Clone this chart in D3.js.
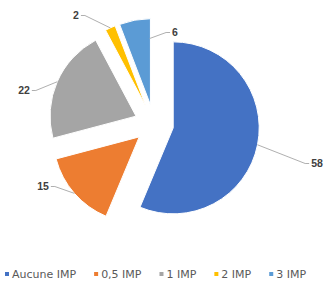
<!DOCTYPE html>
<html>
<head>
<meta charset="utf-8">
<script src="https://cdn.jsdelivr.net/npm/d3@7"></script>
<style>
  body { margin: 0; background: #fff; }
  svg { display: block; }
</style>
</head>
<body>
<div id="chart"></div>
<script>
// data
var categories = ["Aucune IMP", "0,5 IMP", "1 IMP", "2 IMP", "3 IMP"];
var values = [58, 15, 22, 2, 6];
var colors = ["#4472C4", "#ED7D31", "#A5A5A5", "#FFC000", "#5B9BD5"];

var width = 327, height = 281;
var cx = 154, cy = 124, radius = 86, explode = 19.6;

// label placement, relative to the pie centre (layout only)
var labelLayout = [
  {dx: 163, dy: 43, leaderAngle: null, leaderR: 1},
  {dx: -111, dy: 66, leaderAngle: null, leaderR: 1},
  {dx: -130, dy: -30, leaderAngle: null, leaderR: 1},
  {dx: -78, dy: -105, leaderAngle: null, leaderR: 1},
  {dx: 21, dy: -88, leaderAngle: 359.3, leaderR: 0.77}
];

var svg = d3.select("#chart")
  .append("svg")
    .attr("width", width)
    .attr("height", height);

var pie = d3.pie().sort(null).value(function(d) { return d; });
var arcs = pie(values);
var arc = d3.arc().innerRadius(0).outerRadius(radius);

function offset(d) {
  var mid = (d.startAngle + d.endAngle) / 2;
  return [explode * Math.sin(mid), -explode * Math.cos(mid)];
}

var g = svg.append("g")
  .attr("transform", "translate(" + cx + "," + cy + ")");

g.selectAll("path.slice")
  .data(arcs)
  .enter()
  .append("path")
    .attr("class", "slice")
    .attr("d", arc)
    .attr("transform", function(d) {
      var o = offset(d);
      return "translate(" + o[0] + "," + o[1] + ")";
    })
    .attr("fill", function(d, i) { return colors[i]; })
    .attr("stroke", "#fff")
    .attr("stroke-width", 1);

// data labels with leader lines
var labels = g.append("g");
arcs.forEach(function(d, i) {
  var L = labelLayout[i];
  var o = offset(d);
  var a = L.leaderAngle != null ? L.leaderAngle * Math.PI / 180 : (d.startAngle + d.endAngle) / 2;
  var sx = o[0] + radius * L.leaderR * Math.sin(a);
  var sy = o[1] - radius * L.leaderR * Math.cos(a);

  var t = labels.append("text")
    .attr("x", L.dx)
    .attr("y", L.dy)
    .attr("text-anchor", "middle")
    .attr("font-family", "'Liberation Sans', Arial, sans-serif")
    .attr("font-size", "10.5px")
    .attr("font-weight", "bold")
    .attr("fill", "#404040")
    .text(values[i]);
  var w = t.node().getComputedTextLength();
  var side = sx > L.dx ? 1 : -1;
  var ex = L.dx + side * (w / 2 + 2);
  var ey = L.dy - 3.5;
  var kx = ex + side * 4;

  labels.append("polyline")
    .attr("points", [[sx, sy], [kx, ey], [ex, ey]].map(function(p) { return p.join(","); }).join(" "))
    .attr("fill", "none")
    .attr("stroke", "#A6A6A6")
    .attr("stroke-width", 0.9);
});

// legend
var legend = svg.append("g").attr("transform", "translate(0,274)");
var lx = 5;
categories.forEach(function(c, i) {
  legend.append("rect")
    .attr("x", lx)
    .attr("y", -2)
    .attr("width", 4)
    .attr("height", 4)
    .attr("fill", colors[i]);
  var t = legend.append("text")
    .attr("x", lx + 7)
    .attr("y", 4)
    .attr("font-family", "'DejaVu Sans', sans-serif")
    .attr("font-size", "11px")
    .attr("fill", "#595959")
    .text(c);
  lx += 7 + t.node().getComputedTextLength() + 18;
});
</script>
</body>
</html>
